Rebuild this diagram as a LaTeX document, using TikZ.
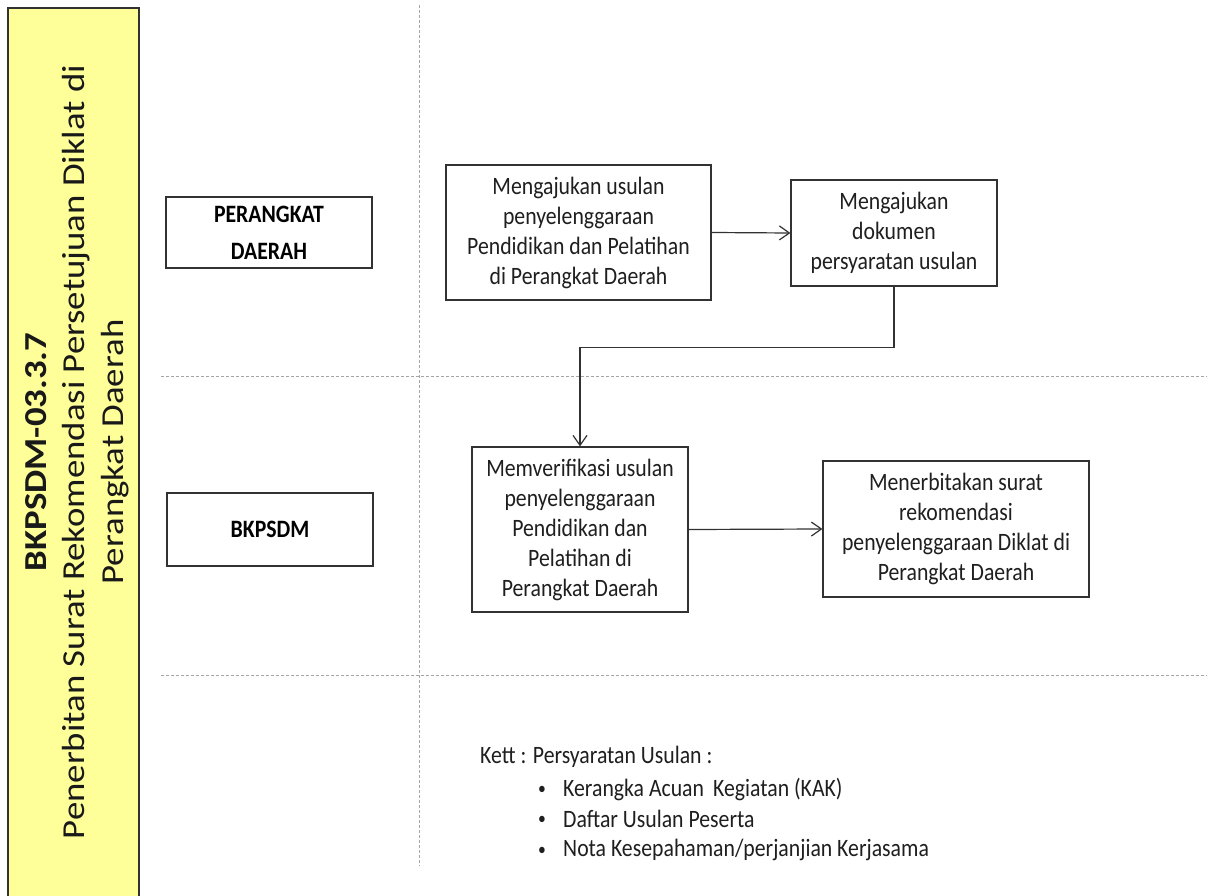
\documentclass[tikz,border=0pt]{standalone}
\usepackage{fontspec}
\setmainfont{Carlito}
\newfontfamily\hfont[FakeStretch=0.87]{Carlito}
\newfontfamily\vfont[FakeStretch=1.15]{Carlito}
\usetikzlibrary{arrows.meta}
\definecolor{baryellow}{RGB}{255,255,153}
\definecolor{lineclr}{RGB}{50,50,50}
\definecolor{dashclr}{RGB}{165,165,165}
\tikzset{
  stepbox/.style={draw=lineclr, line width=1.2pt, inner sep=0pt, align=center,
    font={\hfont\fontsize{25}{30}\selectfont}, text=black!88},
  lanebox/.style={draw=lineclr, line width=1.2pt, inner sep=0pt, align=center,
    font={\hfont\bfseries\fontsize{25}{37}\selectfont}, minimum width=206pt},
  arr/.style={draw=lineclr, line width=1.2pt, -{Straight Barb[length=10pt,width=14pt,line width=1.2pt]}},
  sep/.style={draw=dashclr, line width=0.9pt, dash pattern=on 3pt off 2pt},
  note/.style={inner sep=0pt, anchor=west, font={\hfont\fontsize{25}{30}\selectfont}, text=black!88},
  dot/.style={inner sep=0pt, anchor=west, font={\hfont\fontsize{18}{20}\selectfont}, text=black!88}
}
\begin{document}
\begin{tikzpicture}[x=1pt,y=-1pt]
\useasboundingbox (0,0) rectangle (1212,896);
\fill[white] (0,0) rectangle (1212,896);
% yellow title bar
\draw[fill=baryellow, draw=lineclr, line width=1.2pt] (8,8) rectangle (139,905);
\node[rotate=90, align=center, inner sep=0pt, text=black!90,
      font={\vfont\fontsize{32}{38.5}\selectfont}] (title) at (77,452)
  {\textbf{BKPSDM-03.3.7}\\Penerbitan Surat Rekomendasi Persetujuan Diklat di\\Perangkat Daerah};
% separators
\coordinate (vtop) at (419,5);
\coordinate (vbot) at (419,866);
\coordinate (h1l) at (161,376);
\coordinate (h1r) at (1207,376);
\coordinate (h2l) at (161,675);
\coordinate (h2r) at (1207,675);
\draw[sep] (vtop) -- (vbot);
\draw[sep] (h1l) -- (h1r);
\draw[sep] (h2l) -- (h2r);
% lanes
\node[lanebox, minimum height=71pt] (pd) at (269,232.5) {PERANGKAT\\DAERAH};
\node[lanebox, minimum height=73pt] (bk) at (270,529.5) {BKPSDM};
% steps
\node[stepbox, minimum width=265pt, minimum height=135pt] (b1) at (578.5,232.5)
  {Mengajukan usulan\\penyelenggaraan\\Pendidikan dan Pelatihan\\di Perangkat Daerah};
\node[stepbox, minimum width=206pt, minimum height=106pt] (b2) at (894,233)
  {Mengajukan\\dokumen\\persyaratan usulan};
\node[stepbox, minimum width=216pt, minimum height=165pt] (b3) at (580,529.5)
  {Memverifikasi usulan\\penyelenggaraan\\Pendidikan dan\\Pelatihan di\\Perangkat Daerah};
\node[stepbox, minimum width=266pt, minimum height=136pt] (b4) at (956,529)
  {Menerbitakan surat\\rekomendasi\\penyelenggaraan Diklat di\\Perangkat Daerah};
% connectors
\draw[arr] (b1.east) -- (b2.west);
\draw[arr] (b2.south) -- ++(0,61) -| (b3.north);
\draw[arr] (b3.east) -- (b4.west);
% notes
\node[note] (kett) at (480,757) {Kett : Persyaratan Usulan :};
\node[dot] (d1) at (538,790) {•};
\node[dot] (d2) at (538,820) {•};
\node[dot] (d3) at (538,851) {•};
\node[note] (k1) at (563,789) {Kerangka Acuan\, Kegiatan (KAK)};
\node[note] (k2) at (563,819) {Daftar Usulan Peserta};
\node[note] (k3) at (563,850) {Nota Kesepahaman/perjanjian Kerjasama};
\end{tikzpicture}
\end{document}
